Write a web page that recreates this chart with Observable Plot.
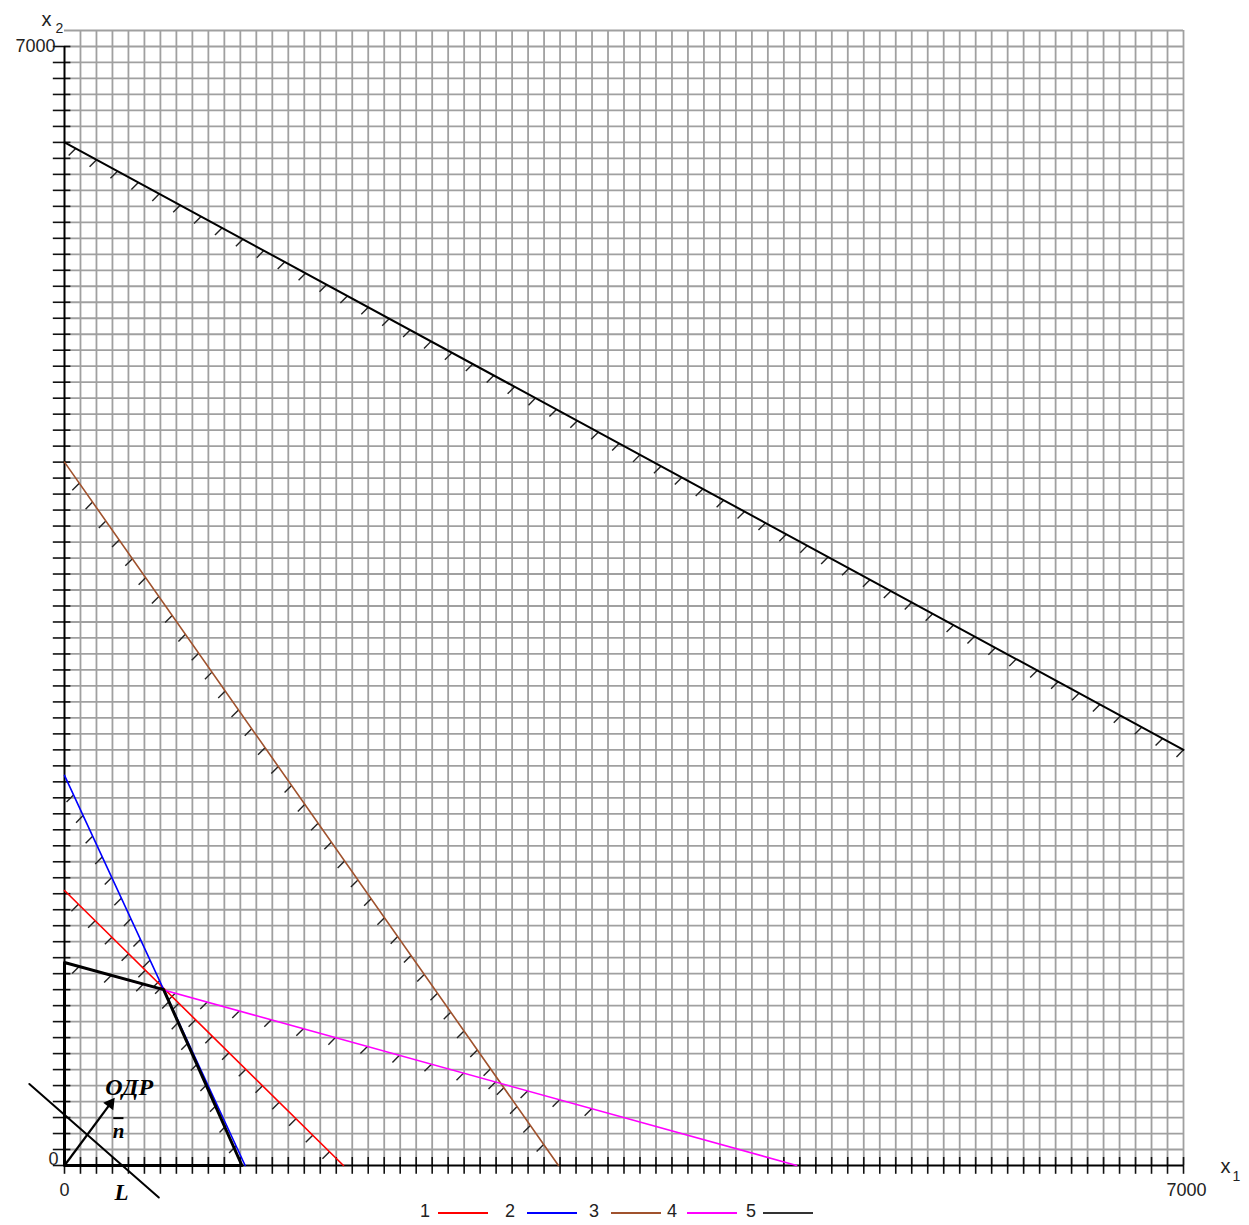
<!DOCTYPE html>
<html>
<head>
<meta charset="utf-8">
<script src="https://cdn.jsdelivr.net/npm/d3@7"></script>
<script src="https://cdn.jsdelivr.net/npm/@observablehq/plot@0.6"></script>
<style>
  html, body { margin: 0; padding: 0; background: #fff; }
  #chart { width: 1249px; }
  #legend { position: relative; width: 1249px; height: 30px; font-family: "Liberation Sans", Arial, sans-serif; font-size: 18px; color: #222; }
  #legend .num { position: absolute; top: 6px; line-height: 20px; }
  #legend .sw { position: absolute; top: 17px; height: 2px; width: 50px; }
</style>
</head>
<body>
<div id="chart"></div>
<div id="legend"></div>
<script>
// ---- data ----
const constraintIds = ["1", "2", "3", "4", "5"];
const constraintColors = ["#ff0000", "#0000ff", "#a0522d", "#ff00ff", "#000000"];
const startX = [0, 0, 0, 0, 0];
const startY = [1720, 2440, 4400, 1270, 6400];
const endX = [1745, 1130, 3090, 4580, 7000];
const endY = [0, 0, 0, 0, 2600];
const hatchT0 = [0.05, 0.05, 0.03, 0.02, 0.01];
const hatchT1 = [0.95, 0.95, 0.97, 0.72, 1.0];
const hatchCount = [16, 18, 36, 17, 54];

const odrX = [0, 0, 620, 1110, 0];
const odrY = [0, 1270, 1100, 0, 0];

const lineLX = [-220, 590];
const lineLY = [510, -200];
const normalX = [0, 287];
const normalY = [0, 387];

const annText = ["ОДР", "n", "L"];
const annX = [405, 338, 357];
const annY = [490, 215, -170];

const axisMax = 7000;
const gridTop = 7100;
const gridStep = 100;
const tickLabels = [0, 7000];

// ---- derived tables ----
const lines = constraintIds.flatMap((id, i) => [
  {id, x: startX[i], y: startY[i]},
  {id, x: endX[i], y: endY[i]}
]);
const hatches = constraintIds.flatMap((id, i) =>
  d3.range(hatchCount[i]).map(k => {
    const t = hatchT0[i] + (hatchT1[i] - hatchT0[i]) * k / (hatchCount[i] - 1);
    return {id, x: startX[i] + (endX[i] - startX[i]) * t, y: startY[i] + (endY[i] - startY[i]) * t};
  })
);
const odr = odrX.map((x, i) => ({x, y: odrY[i]}));
const gridV = d3.range(gridStep, axisMax + 1, gridStep);
const gridH = d3.range(gridStep, gridTop + 1, gridStep);
const ticks = d3.range(0, axisMax + 1, gridStep);
const colorOf = Object.fromEntries(constraintIds.map((id, i) => [id, constraintColors[i]]));

const sans = "Liberation Sans, Arial, sans-serif";
const serif = "Liberation Serif, Times New Roman, serif";

// screen-space angle of the normal vector (clockwise from up); px per unit equal on both axes
const arrowAngle = Math.atan2(normalX[1] - normalX[0], normalY[1] - normalY[0]) * 180 / Math.PI;

const chart = Plot.plot({
  width: 1249,
  height: 1195,
  marginLeft: 64,
  marginRight: 66,
  marginTop: 30,
  marginBottom: 30,
  x: {domain: [0, axisMax], axis: null},
  y: {domain: [0, gridTop], axis: null},
  style: {background: "white", overflow: "visible"},
  marks: [
    Plot.ruleX(gridV, {y1: 0, y2: gridTop, stroke: "#a0a0a0", strokeWidth: 1.8}),
    Plot.ruleY(gridH, {x1: 0, x2: axisMax, stroke: "#a0a0a0", strokeWidth: 1.8}),
    // axis ticks
    Plot.ruleY(ticks, {x1: -70, x2: 40, stroke: "#111", strokeWidth: 1.6}),
    Plot.ruleX(ticks, {y1: -55, y2: 50, stroke: "#111", strokeWidth: 1.6}),
    // axes
    Plot.ruleX([0], {y1: 0, y2: axisMax, stroke: "#000", strokeWidth: 2}),
    Plot.ruleY([0], {x1: 0, x2: axisMax, stroke: "#000", strokeWidth: 2}),
    // hatches
    Plot.link(hatches, {x1: "x", y1: "y", x2: d => d.x - 44, y2: d => d.y - 44, stroke: "#222", strokeWidth: 1.4}),
    // constraint lines
    Plot.line(lines, {x: "x", y: "y", z: "id", stroke: d => colorOf[d.id], strokeWidth: d => d.id === "5" ? 2 : 1.6}),
    // feasible region boundary
    Plot.line(odr, {x: "x", y: "y", stroke: "#000", strokeWidth: 3}),
    // objective line L
    Plot.line(lineLX.map((x, i) => ({x, y: lineLY[i]})), {x: "x", y: "y", stroke: "#000", strokeWidth: 2}),
    // normal vector n
    Plot.link([0], {x1: normalX[0], y1: normalY[0], x2: normalX[1], y2: normalY[1], stroke: "#000", strokeWidth: 2.2}),
    Plot.dot([0], {x: normalX[1], y: normalY[1], symbol: "triangle2", rotate: arrowAngle, r: 6, fill: "#000", stroke: "none"}),
    // annotations
    Plot.text([annText[0]], {x: annX[0], y: annY[0], text: d => d, fontFamily: serif, fontWeight: "bold", fontStyle: "italic", fontSize: 24, fill: "#000"}),
    Plot.text([annText[1]], {x: annX[1], y: annY[1], text: d => d, fontFamily: serif, fontWeight: "bold", fontStyle: "italic", fontSize: 21, fill: "#000"}),
    Plot.ruleY([annY[1]], {x1: annX[1] - 30, x2: annX[1] + 34, dy: -13, stroke: "#000", strokeWidth: 2}),
    Plot.text([annText[2]], {x: annX[2], y: annY[2], text: d => d, fontFamily: serif, fontWeight: "bold", fontStyle: "italic", fontSize: 23, fill: "#000"}),
    // tick labels
    Plot.text([tickLabels[1]], {x: 0, y: tickLabels[1], dx: -9, text: d => String(d), textAnchor: "end", fontFamily: sans, fontSize: 18, fill: "#222"}),
    Plot.text([tickLabels[0]], {x: 0, y: tickLabels[0], dx: -6, dy: -6, text: d => String(d), textAnchor: "end", fontFamily: sans, fontSize: 18, fill: "#222"}),
    Plot.text([tickLabels[0]], {x: tickLabels[0], y: 0, dy: 25, text: d => String(d), fontFamily: sans, fontSize: 18, fill: "#222"}),
    Plot.text([tickLabels[1]], {x: tickLabels[1], y: 0, dx: 3, dy: 25, text: d => String(d), fontFamily: sans, fontSize: 18, fill: "#222"}),
    // axis names
    Plot.text(["x"], {x: 0, y: axisMax, dx: -18, dy: -27, text: d => d, fontFamily: sans, fontSize: 20, fill: "#222"}),
    Plot.text(["2"], {x: 0, y: axisMax, dx: -5, dy: -18, text: d => d, fontFamily: sans, fontSize: 14, fill: "#222"}),
    Plot.text(["x"], {x: axisMax, y: 0, dx: 42, dy: 1, text: d => d, fontFamily: sans, fontSize: 20, fill: "#222"}),
    Plot.text(["1"], {x: axisMax, y: 0, dx: 53, dy: 11, text: d => d, fontFamily: sans, fontSize: 14, fill: "#222"})
  ]
});
document.getElementById("chart").appendChild(chart);

// legend
const legend = document.getElementById("legend");
const numLeft = [420, 505, 589, 667, 746];
const swLeft = [438, 527, 611, 687, 763];
constraintIds.forEach((id, i) => {
  const n = document.createElement("span");
  n.className = "num"; n.textContent = id; n.style.left = numLeft[i] + "px";
  legend.appendChild(n);
  const s = document.createElement("span");
  s.className = "sw"; s.style.left = swLeft[i] + "px";
  s.style.background = id === "5" ? "#333" : constraintColors[i];
  legend.appendChild(s);
});
</script>
</body>
</html>
